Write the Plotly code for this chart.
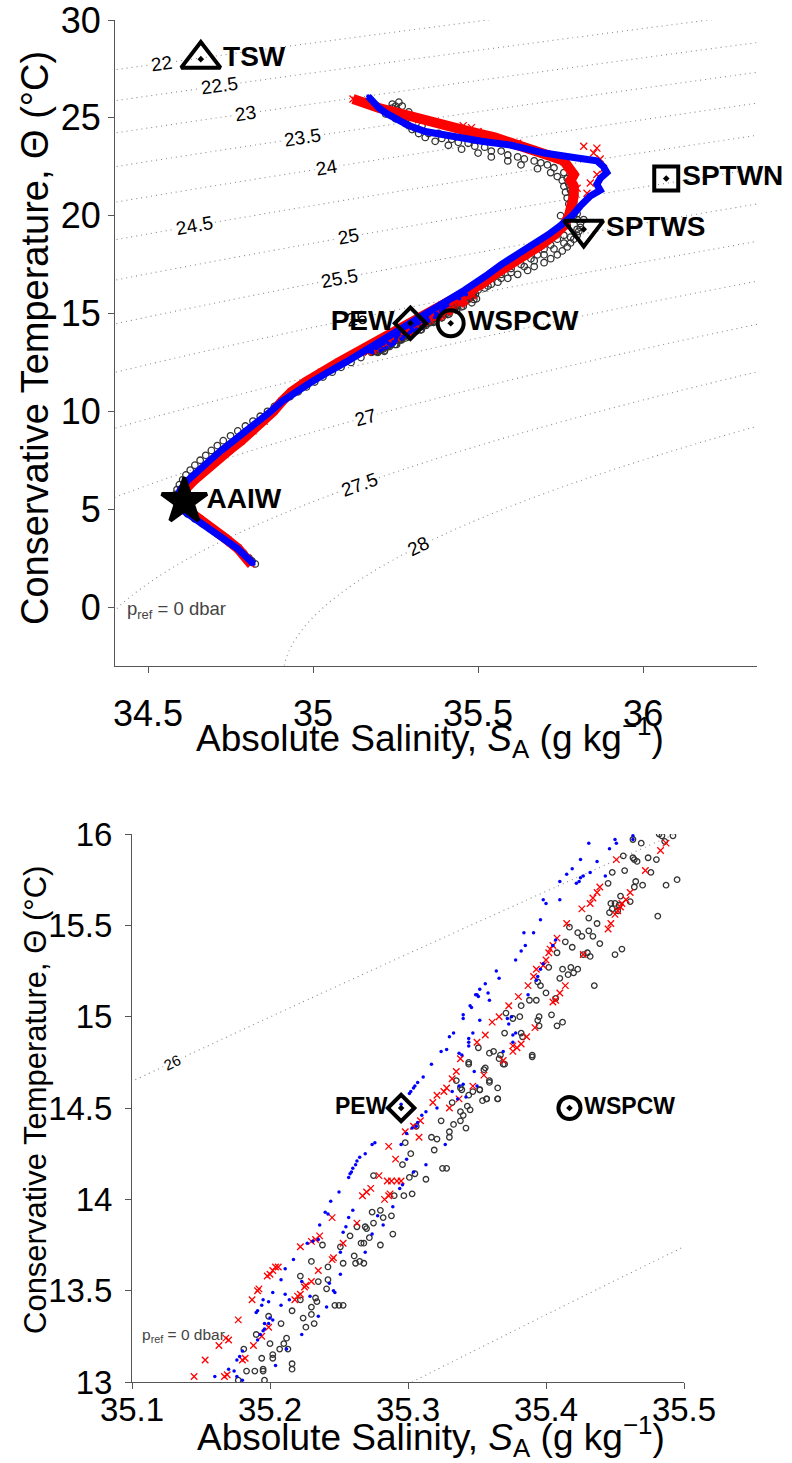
import numpy as np
import plotly.graph_objects as go

# ---------------- data ----------------
# Black open circles (series 1)
black_sa_deep = [34.825, 34.815, 34.806, 34.790, 34.772, 34.752, 34.730, 34.710, 34.688, 34.665, 34.642, 34.620,
                 34.600, 34.588, 34.582, 34.583, 34.588, 34.595, 34.605, 34.615, 34.628, 34.642, 34.658, 34.675,
                 34.692, 34.710, 34.728, 34.750, 34.772, 34.795, 34.818, 34.840, 34.862, 34.883, 34.905, 34.930,
                 34.955, 34.980, 35.005, 35.030, 35.058, 35.085, 35.115, 35.145]
black_ct_deep = [2.2, 2.35, 2.5, 2.75, 3.0, 3.25, 3.5, 3.75, 4.0, 4.25, 4.5, 4.75,
                 5.0, 5.25, 5.5, 5.75, 6.0, 6.25, 6.5, 6.75, 7.0, 7.25, 7.5, 7.75,
                 8.0, 8.25, 8.5, 8.75, 9.0, 9.25, 9.5, 9.75, 10.0, 10.25, 10.5, 10.75,
                 11.0, 11.25, 11.5, 11.75, 12.0, 12.25, 12.5, 12.75]
black_sa_mid = [35.177, 35.183, 35.189, 35.195, 35.195, 35.196, 35.194, 35.190, 35.199, 35.200, 35.202, 35.202,
                35.181, 35.207, 35.208, 35.210, 35.212, 35.213, 35.216, 35.216, 35.216, 35.222, 35.222, 35.224,
                35.226, 35.230, 35.234, 35.233, 35.230, 35.232, 35.230, 35.235, 35.238, 35.241, 35.242, 35.242,
                35.247, 35.250, 35.253, 35.251, 35.253, 35.258, 35.261, 35.263, 35.262, 35.265, 35.268, 35.266,
                35.268, 35.269, 35.270, 35.272, 35.275, 35.274, 35.275, 35.280, 35.280, 35.282, 35.288, 35.289,
                35.290, 35.296, 35.297, 35.302, 35.301, 35.298, 35.305, 35.303, 35.306,
                35.324, 35.333, 35.330, 35.330, 35.317, 35.321, 35.319, 35.325, 35.328, 35.313, 35.338, 35.342,
                35.338, 35.332, 35.343, 35.340, 35.345, 35.344, 35.347, 35.352, 35.354, 35.357, 35.359, 35.365,
                35.365, 35.366, 35.369, 35.356, 35.344, 35.338, 35.390, 35.359,
                35.463, 35.469, 35.482, 35.484, 35.486, 35.492, 35.456, 35.463, 35.464, 35.466, 35.474, 35.480,
                35.476, 35.448, 35.457, 35.487, 35.495, 35.445, 35.465, 35.464, 35.470, 35.461, 35.454, 35.447,
                35.450, 35.453, 35.448, 35.452, 35.446, 35.481, 35.431, 35.417, 35.423, 35.431, 35.426, 35.434,
                35.437, 35.439, 35.414, 35.408, 35.419, 35.427, 35.430, 35.432, 35.450, 35.455, 35.402, 35.412,
                35.418, 35.423, 35.420, 35.416, 35.410, 35.435, 35.400, 35.396, 35.394, 35.407, 35.388, 35.393,
                35.382, 35.371, 35.376, 35.381, 35.395, 35.394, 35.404, 35.412, 35.408, 35.395, 35.370, 35.382,
                35.383, 35.390, 35.351, 35.362, 35.367, 35.370, 35.355, 35.344, 35.335, 35.339, 35.359, 35.352,
                35.357, 35.365]
black_ct_mid = [13.01, 13.06, 13.06, 13.07, 13.06, 13.01, 13.13, 13.26, 13.36, 13.21, 13.15, 13.13,
                13.18, 13.18, 13.32, 13.21, 13.24, 13.18, 13.10, 13.07, 13.39, 13.45, 13.58, 13.35,
                13.30, 13.41, 13.44, 13.46, 13.66, 13.32, 13.37, 13.55, 13.75, 13.51, 13.63, 13.56,
                13.42, 13.42, 13.42, 13.74, 13.65, 13.80, 13.69, 13.85, 13.65, 13.66, 13.65, 13.76,
                13.76, 13.85, 13.84, 13.79, 14.13, 13.93, 13.87, 13.75, 13.94, 13.90, 13.91, 13.81,
                14.02, 14.19, 14.02, 14.25, 14.12, 14.31, 14.14, 14.03, 14.40,
                14.43, 14.41, 14.37, 14.34, 14.34, 14.33, 14.27, 14.17, 14.17, 14.11, 14.43, 14.39,
                14.48, 14.53, 14.51, 14.46, 14.49, 14.57, 14.59, 14.60, 14.54, 14.55, 14.65, 14.61,
                14.55, 14.77, 14.74, 14.72, 14.74, 14.61, 14.78, 14.80,
                15.97, 15.95, 16.00, 15.99, 15.96, 15.99, 15.88, 15.87, 15.86, 15.85, 15.87, 15.86,
                15.79, 15.79, 15.80, 15.72, 15.75, 15.73, 15.74, 15.71, 15.72, 15.63, 15.66, 15.62,
                15.62, 15.61, 15.59, 15.58, 15.57, 15.55, 15.54, 15.49, 15.46, 15.47, 15.44, 15.44,
                15.51, 15.40, 15.41, 15.35, 15.38, 15.34, 15.35, 15.33, 15.34, 15.37, 15.27, 15.26,
                15.27, 15.26, 15.24, 15.23, 15.21, 15.17, 15.13, 15.17, 15.19, 15.10, 15.09, 15.09,
                15.06, 15.02, 14.99, 15.00, 15.00, 14.98, 15.01, 14.97, 14.95, 14.95, 14.91, 14.91,
                14.89, 14.79, 14.83, 14.81, 14.79, 14.74, 14.71, 14.75, 14.65, 14.60, 14.64, 14.60,
                14.55, 14.55]
black_sa_up = [35.500, 35.530, 35.560, 35.590, 35.620, 35.650, 35.670, 35.700, 35.720, 35.740, 35.755, 35.770,
               35.780, 35.790, 35.800, 35.805, 35.810, 35.810, 35.800, 35.790, 35.780, 35.775, 35.770, 35.765,
               35.760, 35.755, 35.740, 35.720, 35.680, 35.630, 35.590, 35.540, 35.500, 35.450, 35.410, 35.370,
               35.340, 35.320, 35.300, 35.290, 35.280, 35.270, 35.260, 35.255, 35.250, 35.240, 35.260,
               35.500, 35.570, 35.630, 35.680, 35.720, 35.760, 35.770, 35.750, 35.530, 35.600, 35.660, 35.700,
               35.740, 35.220, 35.240, 35.270, 35.290, 35.310, 35.330, 35.380, 35.420, 35.470, 35.520, 35.570,
               35.620, 35.670, 35.710,
               35.250, 35.280, 35.310, 35.350, 35.390, 35.440, 35.490, 35.540, 35.590, 35.640, 35.690, 35.730,
               35.760, 35.770, 35.775, 35.780, 35.785, 35.790, 35.795, 35.800, 35.820, 35.800, 35.780, 35.760,
               35.730, 35.700, 35.670, 35.640, 35.600, 35.570, 35.540, 35.520]
black_ct_up = [16.2, 16.4, 16.6, 16.8, 17.0, 17.2, 17.4, 17.6, 17.8, 18.0, 18.2, 18.4,
               18.6, 18.8, 19.0, 19.2, 19.4, 19.6, 19.8, 20.0, 20.3, 20.6, 20.9, 21.2,
               21.5, 21.8, 22.0, 22.2, 22.4, 22.6, 22.8, 23.0, 23.2, 23.4, 23.6, 23.8,
               24.0, 24.2, 24.4, 24.6, 24.8, 25.0, 25.2, 25.4, 25.6, 25.7, 25.8,
               16.5, 17.0, 17.5, 18.0, 18.5, 19.0, 19.5, 20.0, 16.8, 17.3, 17.8, 18.3,
               18.8, 25.2, 25.5, 25.6, 25.3, 25.0, 24.6, 24.2, 23.9, 23.7, 23.5, 23.3,
               23.0, 22.8, 22.6,
               24.95, 24.70, 24.45, 24.20, 23.95, 23.75, 23.55, 23.30, 23.10, 22.90, 22.70, 22.45,
               22.20, 21.90, 21.60, 21.30, 21.00, 20.70, 20.40, 20.10, 19.80, 19.30, 18.90, 18.60,
               18.30, 18.00, 17.70, 17.40, 17.10, 16.80, 16.50, 16.30]

# Red crosses (series 2)
red_sa_deep = [34.812, 34.800, 34.772, 34.735, 34.695, 34.655, 34.615, 34.598, 34.612, 34.640, 34.672,
               34.708, 34.745, 34.782, 34.818, 34.852, 34.880, 34.905, 34.935, 34.978, 35.025, 35.078]
red_ct_deep = [2.2, 2.5, 3.0, 3.5, 4.0, 4.5, 5.0, 5.5, 6.0, 6.5, 7.0,
               7.5, 8.0, 8.5, 9.0, 9.5, 10.0, 10.5, 11.0, 11.5, 12.0, 12.5]
red_sa_mid = [35.145, 35.153, 35.163, 35.168, 35.170, 35.167, 35.169, 35.177, 35.180, 35.182, 35.188, 35.187,
              35.191, 35.192, 35.194, 35.199, 35.198, 35.200, 35.202, 35.204, 35.206, 35.218, 35.220, 35.222,
              35.225, 35.226, 35.230, 35.222, 35.230, 35.233, 35.236, 35.235, 35.245, 35.246, 35.245, 35.253,
              35.263, 35.267, 35.270, 35.273, 35.279, 35.283, 35.286, 35.287, 35.285, 35.288, 35.292, 35.295,
              35.291, 35.286, 35.298, 35.304, 35.309, 35.308, 35.318, 35.321, 35.326, 35.328, 35.330, 35.332,
              35.335, 35.337, 35.338, 35.347, 35.350, 35.355, 35.356, 35.361, 35.366, 35.369, 35.373, 35.376,
              35.376, 35.379, 35.382, 35.386, 35.392, 35.380, 35.387, 35.391, 35.393, 35.398, 35.400, 35.402,
              35.403, 35.405, 35.408, 35.405, 35.407, 35.410, 35.414, 35.427, 35.445, 35.447, 35.415, 35.426,
              35.432, 35.434, 35.437, 35.439, 35.450, 35.452, 35.454, 35.455, 35.458, 35.461, 35.451, 35.472,
              35.483, 35.487]
red_ct_mid = [13.03, 13.12, 13.20, 13.24, 13.23, 13.03, 13.04, 13.34, 13.12, 13.13, 13.20, 13.45,
              13.50, 13.51, 13.25, 13.30, 13.58, 13.59, 13.61, 13.63, 13.63, 13.45, 13.47, 13.48,
              13.52, 13.53, 13.55, 13.74, 13.77, 13.78, 13.80, 13.61, 13.67, 13.68, 13.90, 13.76,
              13.87, 14.02, 14.04, 14.06, 14.13, 14.00, 14.02, 14.03, 14.10, 14.10, 14.10, 14.10,
              14.22, 14.29, 14.37, 14.40, 14.43, 14.34, 14.53, 14.57, 14.59, 14.61, 14.50, 14.66,
              14.70, 14.55, 14.77, 14.62, 14.86, 14.68, 14.90, 14.97, 15.00, 14.76, 15.06, 14.81,
              14.84, 14.83, 14.85, 14.89, 14.94, 15.11, 15.17, 15.22, 15.26, 15.28, 15.31, 15.35,
              15.37, 15.39, 15.43, 15.08, 15.09, 15.13, 15.17, 15.34, 15.48, 15.51, 15.51, 15.59,
              15.62, 15.65, 15.68, 15.71, 15.56, 15.58, 15.60, 15.62, 15.64, 15.68, 15.86, 15.80,
              15.91, 15.95]
red_sa_up = [35.475, 35.510, 35.550, 35.600, 35.645, 35.690, 35.730, 35.760, 35.775, 35.785, 35.790, 35.790,
             35.780, 35.790, 35.770, 35.760, 35.710, 35.660, 35.620, 35.550, 35.476, 35.400, 35.320, 35.270,
             35.200, 35.150, 35.121]
red_ct_up = [16.2, 16.5, 17.0, 17.5, 18.0, 18.5, 19.0, 19.5, 20.0, 20.5, 21.0, 21.5,
             21.8, 22.1, 22.5, 22.8, 23.1, 23.4, 23.7, 24.0, 24.3, 24.6, 24.9, 25.2,
             25.5, 25.8, 25.96]
red_sa_extra = [35.820, 35.860, 35.850, 35.870, 35.880, 35.860, 35.840, 35.830, 35.800, 35.455, 35.480, 35.500,
                35.130, 35.150, 35.170]
red_ct_extra = [23.55, 23.45, 23.20, 22.90, 22.40, 22.10, 21.67, 21.15, 21.40, 24.60, 24.50, 24.30,
                25.90, 25.85, 25.80]

# Blue dots (series 3)
blue_sa_deep = [34.820, 34.802, 34.770, 34.728, 34.685, 34.640, 34.600, 34.585, 34.598, 34.622, 34.652,
                34.688, 34.722, 34.760, 34.800, 34.838, 34.872, 34.905, 34.948, 34.995, 35.045, 35.098]
blue_ct_deep = [2.2, 2.5, 3.0, 3.5, 4.0, 4.5, 5.0, 5.5, 6.0, 6.5, 7.0,
                7.5, 8.0, 8.5, 9.0, 9.5, 10.0, 10.5, 11.0, 11.5, 12.0, 12.5]
blue_sa_mid = [35.160, 35.170, 35.176, 35.180, 35.174, 35.176, 35.178, 35.180, 35.191, 35.193, 35.195, 35.196,
               35.196, 35.199, 35.200, 35.202, 35.191, 35.190, 35.194, 35.195, 35.199, 35.202, 35.208, 35.211,
               35.214, 35.212, 35.204, 35.208, 35.211, 35.217, 35.223, 35.223, 35.229, 35.235, 35.227, 35.231,
               35.235, 35.236, 35.241, 35.243, 35.246, 35.247, 35.240, 35.242, 35.244, 35.250, 35.251, 35.257,
               35.255, 35.253, 35.251, 35.257, 35.258, 35.259, 35.260, 35.262, 35.263, 35.265, 35.269, 35.274,
               35.276, 35.260, 35.269, 35.274, 35.278, 35.282, 35.289, 35.294, 35.296, 35.299, 35.304, 35.295,
               35.299, 35.303,
               35.317, 35.311, 35.307, 35.305, 35.304, 35.302, 35.301, 35.295, 35.313, 35.310, 35.307, 35.306,
               35.321, 35.327, 35.332, 35.337, 35.340, 35.336, 35.342, 35.348, 35.350, 35.313,
               35.431, 35.450, 35.451, 35.446, 35.463, 35.463, 35.425, 35.419, 35.415, 35.437, 35.432, 35.427,
               35.425, 35.424, 35.422, 35.443, 35.410, 35.398, 35.400, 35.410, 35.396, 35.384, 35.391, 35.385,
               35.382, 35.378, 35.364, 35.366, 35.356, 35.352, 35.350, 35.351, 35.349, 35.345, 35.346, 35.358,
               35.359, 35.340, 35.340, 35.352, 35.372, 35.373, 35.375, 35.387, 35.393, 35.396, 35.394, 35.398,
               35.405, 35.407, 35.333, 35.330, 35.347, 35.344, 35.344, 35.344, 35.328, 35.324, 35.337, 35.339,
               35.369, 35.376, 35.376, 35.378]
blue_ct_mid = [13.03, 13.07, 13.03, 13.01, 13.06, 13.12, 13.14, 13.17, 13.23, 13.26, 13.28, 13.29,
               13.32, 13.32, 13.35, 13.34, 13.39, 13.38, 13.42, 13.45, 13.44, 13.49, 13.42, 13.48,
               13.45, 13.18, 13.09, 13.56, 13.62, 13.67, 13.55, 13.26, 13.47, 13.36, 13.76, 13.77,
               13.78, 13.86, 13.41, 13.54, 13.50, 13.49, 13.93, 13.92, 13.99, 14.04, 13.71, 13.90,
               13.85, 13.82, 13.59, 14.12, 14.14, 14.15, 14.17, 14.19, 14.21, 14.23, 14.25, 14.30,
               14.31, 13.94, 13.71, 13.81, 13.91, 13.86, 13.96, 14.06, 14.08, 14.22, 14.15, 14.30,
               14.36, 14.39,
               14.74, 14.67, 14.64, 14.62, 14.61, 14.59, 14.58, 14.52, 14.48, 14.46, 14.42, 14.40,
               14.50, 14.30, 14.59, 14.62, 14.63, 14.55, 14.56, 14.70, 14.62, 14.19,
               15.95, 15.97, 15.95, 15.92, 15.99, 15.97, 15.86, 15.81, 15.78, 15.85, 15.79, 15.77,
               15.76, 15.74, 15.73, 15.77, 15.74, 15.64, 15.62, 15.64, 15.53, 15.46, 15.46, 15.39,
               15.36, 15.31, 15.25, 15.21, 15.18, 15.15, 15.12, 15.11, 15.12, 15.06, 15.05, 15.13,
               15.09, 15.01, 14.99, 14.98, 14.99, 14.96, 15.00, 15.12, 15.20, 15.26, 15.22, 15.29,
               15.39, 15.42, 14.91, 14.89, 14.91, 14.88, 14.86, 14.84, 14.82, 14.81, 14.80, 14.79,
               14.81, 14.86, 14.90, 14.91]
blue_sa_up = [35.460, 35.490, 35.530, 35.570, 35.620, 35.665, 35.710, 35.750, 35.785, 35.810, 35.840, 35.870,
              35.860, 35.870, 35.890, 35.880, 35.860, 35.800, 35.750, 35.700, 35.650, 35.600, 35.510, 35.430,
              35.340, 35.290, 35.255, 35.225, 35.200, 35.185, 35.167]
blue_ct_up = [16.2, 16.5, 17.0, 17.5, 18.0, 18.5, 19.0, 19.5, 20.0, 20.5, 21.0, 21.3,
              21.6, 21.9, 22.2, 22.5, 22.8, 22.95, 23.05, 23.2, 23.4, 23.6, 23.8, 24.0,
              24.3, 24.6, 24.9, 25.2, 25.5, 25.8, 26.1]

# Water masses
wm_names = ["TSW", "SPTWN", "SPTWS", "PEW", "WSPCW", "AAIW"]
wm_sa = [34.66, 36.07, 35.82, 35.295, 35.417, 34.61]
wm_ct = [28.0, 21.9, 19.3, 14.5, 14.5, 5.4]
wm_symbols = ["triangle-up-open-dot", "square-open-dot", "triangle-down-open-dot",
              "diamond-open-dot", "circle-open-dot", "star"]

# Isopycnal levels (sigma0, kg m-3) and where their labels sit (absolute salinity)
sig_start, sig_end, sig_step = 22.0, 28.0, 0.5
top_label_levels = [22, 22.5, 23, 23.5, 24, 24.5, 25, 25.5, 26, 27, 27.5, 28]
top_label_sa = [34.542, 34.718, 34.794, 34.967, 35.042, 34.642, 35.106, 35.080, 35.133, 35.158, 35.142, 35.318]
bot_label_levels = [26]
bot_label_sa = [35.129]


# ---------------- helpers ----------------
def sigma0(sa, ct):
    """Potential density anomaly at p=0 (EOS-80 surface polynomial, SP from SA)."""
    s = sa * 35.0 / 35.16504
    t = ct
    rw = (999.842594 + 6.793952e-2 * t - 9.095290e-3 * t**2 + 1.001685e-4 * t**3
          - 1.120083e-6 * t**4 + 6.536332e-9 * t**5)
    a = 8.24493e-1 - 4.0899e-3 * t + 7.6438e-5 * t**2 - 8.2467e-7 * t**3 + 5.3875e-9 * t**4
    b = -5.72466e-3 + 1.0227e-4 * t - 1.6546e-6 * t**2
    c = 4.8314e-4
    return rw + a * s + b * s**1.5 + c * s**2 - 1000.0


def ct_on_isopycnal(level, sa):
    lo, hi = -4.0, 40.0
    for _ in range(60):
        mid = 0.5 * (lo + hi)
        if sigma0(sa, mid) > level:
            lo = mid
        else:
            hi = mid
    return 0.5 * (lo + hi)


def label_angle(sa, ct, px_per_sa, px_per_ct):
    e = 1e-4
    ds = (sigma0(sa + e, ct) - sigma0(sa - e, ct)) / (2 * e)
    dt = (sigma0(sa, ct + e) - sigma0(sa, ct - e)) / (2 * e)
    slope = -ds / dt  # dCT/dSA along isopycnal
    return -np.degrees(np.arctan(slope * px_per_ct / px_per_sa))


black_sa = black_sa_deep + black_sa_mid + black_sa_up
black_ct = black_ct_deep + black_ct_mid + black_ct_up
red_sa = red_sa_deep + red_sa_mid + red_sa_up + red_sa_extra
red_ct = red_ct_deep + red_ct_mid + red_ct_up + red_ct_extra
blue_sa = blue_sa_deep + blue_sa_mid + blue_sa_up
blue_ct = blue_ct_deep + blue_ct_mid + blue_ct_up

FONT = "Liberation Sans, Arial, sans-serif"
GRAY = "#555555"
H = 1463.0
W = 792.0

# axis geometry (pixels) and ranges
top_x_px, top_y_px = (115, 757), (20, 665.7)
bot_x_px, bot_y_px = (132, 684), (834, 1382)
top_xr, top_yr = [34.4, 36.345], [-3, 30.0001]
bot_xr, bot_yr = [35.1, 35.5], [13, 16.0001]

fig = go.Figure()

panels = [
    dict(xa="x", ya="y", sa_grid=np.linspace(34.3, 36.5, 260), ct_grid=np.linspace(-3.5, 31, 380),
         top=True, tfs=28, msc=1.0, xr=top_xr, yr=top_yr, xpx=top_x_px, ypx=top_y_px,
         lab_lv=top_label_levels, lab_sa=top_label_sa, lfs=19),
    dict(xa="x2", ya="y2", sa_grid=np.linspace(35.05, 35.55, 140), ct_grid=np.linspace(12.8, 16.2, 140),
         top=False, tfs=23, msc=0.85, xr=bot_xr, yr=bot_yr, xpx=bot_x_px, ypx=bot_y_px,
         lab_lv=bot_label_levels, lab_sa=bot_label_sa, lfs=15),
]

for p in panels:
    SAg, CTg = np.meshgrid(p["sa_grid"], p["ct_grid"])
    fig.add_trace(go.Contour(
        x=p["sa_grid"], y=p["ct_grid"], z=sigma0(SAg, CTg),
        xaxis=p["xa"], yaxis=p["ya"],
        contours=dict(start=sig_start, end=sig_end, size=sig_step, coloring="none", showlabels=False),
        line=dict(color="#8a8a8a", width=1.1, dash="1px,4px"),
        showscale=False, hoverinfo="skip"))

    # black open circles
    fig.add_trace(go.Scatter(x=black_sa, y=black_ct, xaxis=p["xa"], yaxis=p["ya"], mode="markers",
                             marker=dict(symbol="circle-open", size=6.5 if p["top"] else 5.5, opacity=1,
                                         color="#333333", line=dict(width=1.3, color="#333333")),
                             hoverinfo="skip"))
    if p["top"]:
        fig.add_trace(go.Scatter(x=red_sa_deep + red_sa_up, y=red_ct_deep + red_ct_up,
                                 xaxis=p["xa"], yaxis=p["ya"], mode="lines",
                                 line=dict(color="red", width=10), hoverinfo="skip"))
    fig.add_trace(go.Scatter(x=red_sa, y=red_ct, xaxis=p["xa"], yaxis=p["ya"], mode="markers",
                             marker=dict(symbol="x-thin", size=7 if p["top"] else 6.5, opacity=1,
                                         line=dict(width=1.3, color="red"), color="red"),
                             hoverinfo="skip"))
    if p["top"]:
        fig.add_trace(go.Scatter(x=blue_sa_deep + blue_sa_up, y=blue_ct_deep + blue_ct_up,
                                 xaxis=p["xa"], yaxis=p["ya"], mode="lines",
                                 line=dict(color="blue", width=7), hoverinfo="skip"))
    fig.add_trace(go.Scatter(x=blue_sa, y=blue_ct, xaxis=p["xa"], yaxis=p["ya"], mode="markers",
                             marker=dict(symbol="circle", size=4 if p["top"] else 3.5, color="blue",
                                         opacity=1, line=dict(width=0)),
                             hoverinfo="skip"))

    # water masses (only those inside the panel's ranges)
    sizes = [34, 24, 34, 24, 26, 34]
    tpos = ["middle right", "middle right", "middle right", "middle left", "middle right", "middle right"]
    keep = [i for i in range(len(wm_names))
            if p["xr"][0] <= wm_sa[i] <= p["xr"][1] and p["yr"][0] <= wm_ct[i] <= p["yr"][1]]
    fig.add_trace(go.Scatter(x=[wm_sa[i] for i in keep], y=[wm_ct[i] for i in keep],
                             xaxis=p["xa"], yaxis=p["ya"], mode="markers+text",
                             text=[wm_names[i] for i in keep], textposition=[tpos[i] for i in keep],
                             textfont=dict(size=p["tfs"], color="black", family=FONT, weight="bold"),
                             marker=dict(symbol=[wm_symbols[i] for i in keep],
                                         size=[sizes[i] * p["msc"] for i in keep], color="black", opacity=1,
                                         line=dict(width=4, color="black")),
                             cliponaxis=False, hoverinfo="skip"))

    # isopycnal labels along the lines
    px_per_sa = (p["xpx"][1] - p["xpx"][0]) / (p["xr"][1] - p["xr"][0])
    px_per_ct = (p["ypx"][1] - p["ypx"][0]) / (p["yr"][1] - p["yr"][0])
    for lv, sa in zip(p["lab_lv"], p["lab_sa"]):
        ct = ct_on_isopycnal(lv, sa)
        ang = label_angle(sa, ct, px_per_sa, px_per_ct)
        # the top-panel "26" sits under the PEW label in the reference: no blanking box there
        bg = "rgba(255,255,255,0)" if (p["top"] and lv == 26) else "white"
        fig.add_annotation(x=sa, y=ct, xref=p["xa"], yref=p["ya"], text=f"{lv:g}", showarrow=False,
                           textangle=ang, bgcolor=bg, borderpad=1,
                           font=dict(family=FONT, size=p["lfs"], color="black"))

axis_common = dict(showgrid=False, zeroline=False, showline=True, linecolor=GRAY, linewidth=1,
                   ticks="outside", ticklen=6, tickcolor=GRAY, tickwidth=1, automargin=False,
                   ticklabeloverflow="allow")

fig.update_layout(
    width=792, height=1463, margin=dict(l=0, r=0, t=0, b=0, autoexpand=False),
    paper_bgcolor="white", plot_bgcolor="white", showlegend=False,
    xaxis=dict(domain=[top_x_px[0] / W, top_x_px[1] / W], range=top_xr, anchor="y",
               tickvals=[34.5, 35, 35.5, 36], ticktext=["34.5", "35", "35.5", "36"],
               tickfont=dict(family=FONT, color="black", size=36), ticklabelstandoff=10, **axis_common),
    yaxis=dict(domain=[1 - top_y_px[1] / H, 1 - top_y_px[0] / H], range=top_yr, anchor="x",
               tickvals=[0, 5, 10, 15, 20, 25, 30],
               tickfont=dict(family=FONT, color="black", size=36), **axis_common),
    xaxis2=dict(domain=[bot_x_px[0] / W, bot_x_px[1] / W], range=bot_xr, anchor="y2",
                tickvals=[35.1, 35.2, 35.3, 35.4, 35.5],
                tickfont=dict(family=FONT, color="black", size=33), ticklabelstandoff=-8, **axis_common),
    yaxis2=dict(domain=[1 - bot_y_px[1] / H, 1 - bot_y_px[0] / H], range=bot_yr, anchor="x2",
                tickvals=[13, 13.5, 14, 14.5, 15, 15.5, 16],
                tickfont=dict(family=FONT, color="black", size=33), ticklabelstandoff=6, **axis_common),
)

xt = "Absolute Salinity, <i>S</i><sub>A</sub> (g kg<sup>−1</sup>)"
yt = "Conservative Temperature, Θ (°C)"
ann = [
    dict(text=xt, x=430 / W, y=1 - 737 / H, font=dict(size=37)),
    dict(text=yt, x=35 / W, y=1 - 338 / H, font=dict(size=38), textangle=-90),
    dict(text=xt, x=431 / W, y=1 - 1436 / H, font=dict(size=37)),
    dict(text=yt, x=35 / W, y=1 - 1100 / H, font=dict(size=31), textangle=-90),
    dict(text="p<sub>ref</sub> = 0 dbar", x=125 / W, y=1 - 610 / H, font=dict(size=18.5, color="#444444"),
         xanchor="left"),
    dict(text="p<sub>ref</sub> = 0 dbar", x=140 / W, y=1 - 1335 / H, font=dict(size=15.5, color="#444444"),
         xanchor="left"),
]
for a in ann:
    f = dict(family=FONT, color="black")
    f.update(a.pop("font"))
    fig.add_annotation(xref="paper", yref="paper", showarrow=False, font=f,
                       xanchor=a.pop("xanchor", "center"), yanchor="middle", **a)

# remove the browser's default 8px page margin so the figure sits at the window's origin
fig.write_html("out.html", config={"displayModeBar": False},
               post_script="document.body.style.margin='0';")
